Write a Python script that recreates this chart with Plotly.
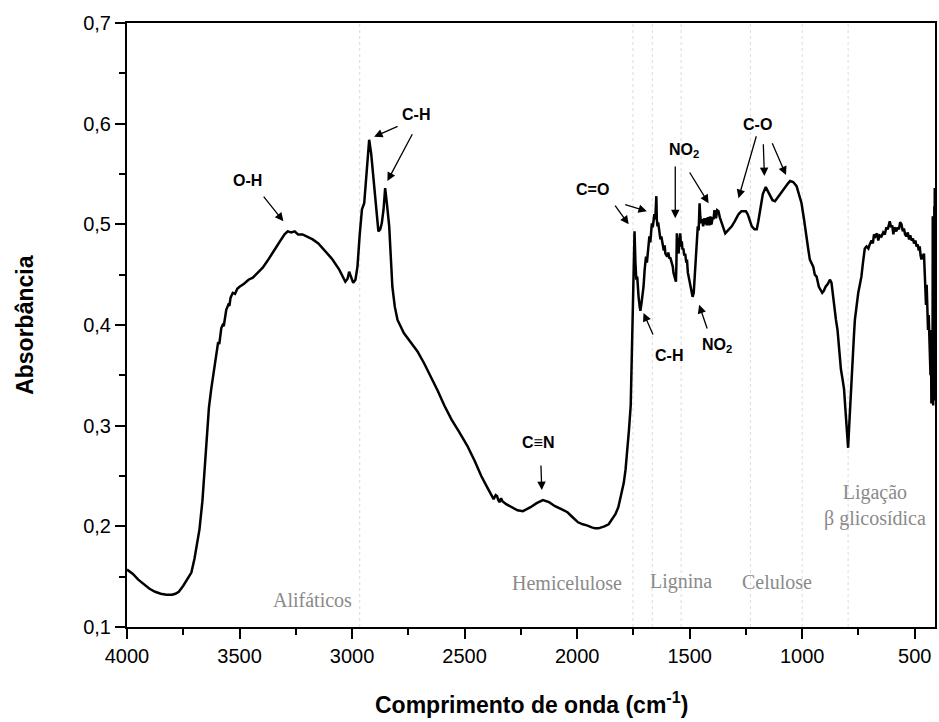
import plotly.graph_objects as go

# ---------------- data ----------------
wavenumber = [
    4000, 3975, 3950, 3925, 3900, 3875, 3850, 3825, 3800, 3785, 3770, 3750, 3730, 3714, 3700, 3690,
    3678, 3665, 3655, 3645, 3636, 3626, 3615, 3604, 3595, 3590, 3581, 3575, 3570, 3559, 3550, 3545,
    3540, 3530, 3520, 3510, 3500, 3480, 3460, 3441, 3420, 3397, 3375, 3353, 3335, 3315, 3300, 3286,
    3270, 3255, 3240, 3220, 3200, 3175, 3150, 3116, 3090, 3057, 3040, 3030, 3020, 3013, 3005, 2995,
    2985, 2976, 2966, 2956, 2946, 2935, 2924, 2915, 2902, 2890, 2883, 2875, 2868, 2860, 2853, 2845,
    2835, 2828, 2821, 2810, 2798, 2770, 2740, 2710, 2680, 2650, 2620, 2590, 2558, 2525, 2488, 2455,
    2426, 2400, 2380, 2371, 2362, 2356, 2350, 2345, 2338, 2332, 2315, 2293, 2265, 2241, 2220, 2207,
    2180, 2152, 2125, 2098, 2070, 2043, 2020, 1996, 1975, 1957, 1935, 1920, 1905, 1890, 1879, 1860,
    1848, 1830, 1817, 1800, 1793, 1785, 1778, 1770, 1762, 1757, 1752, 1748, 1745, 1741, 1737, 1733,
    1730, 1727, 1722, 1719, 1715, 1710, 1705, 1700, 1694, 1690, 1686, 1682, 1679, 1675, 1671, 1668,
    1664, 1660, 1657, 1653, 1650, 1648, 1646, 1643, 1640, 1636, 1634, 1630, 1626, 1620, 1615, 1611,
    1608, 1600, 1595, 1590, 1586, 1580, 1575, 1572, 1566, 1561, 1559, 1557, 1554, 1549, 1546, 1542,
    1538, 1535, 1532, 1528, 1524, 1520, 1515, 1512, 1508, 1503, 1498, 1493, 1487, 1482, 1478, 1475,
    1470, 1466, 1464, 1460, 1456, 1453, 1449, 1445, 1440, 1436, 1431, 1427, 1424, 1420, 1416, 1412,
    1408, 1405, 1402, 1398, 1394, 1390, 1387, 1383, 1378, 1372, 1366, 1361, 1357, 1350, 1342, 1330,
    1313, 1300, 1283, 1270, 1261, 1250, 1242, 1232, 1224, 1212, 1202, 1195, 1187, 1175, 1162, 1152,
    1143, 1132, 1121, 1105, 1091, 1075, 1062, 1054, 1040, 1025, 1013, 1003, 992, 981, 973, 966,
    958, 951, 944, 936, 926, 918, 911, 904, 896, 886, 877, 870, 864, 858, 850, 843,
    835, 828, 820, 814, 808, 802, 796, 790, 785, 781, 776, 770, 766, 760, 751, 744,
    737, 730, 722, 714, 706, 700, 692, 686, 681, 675, 668, 662, 656, 648, 640, 633,
    626, 620, 611, 605, 600, 595, 590, 582, 576, 570, 565, 559, 553, 548, 543, 537,
    531, 525, 520, 514, 508, 503, 497, 492, 487, 482, 478, 474, 470, 466, 462, 459,
    456, 453, 450, 447, 444, 441, 438, 436, 433, 430, 428, 426, 424, 422, 421, 420,
    418, 416, 414, 413, 412, 411,
]
absorbance = [
    0.157, 0.153, 0.147, 0.142, 0.138, 0.135, 0.133, 0.132, 0.132, 0.133, 0.135, 0.141, 0.149, 0.154, 0.168, 0.182,
    0.197, 0.225, 0.258, 0.293, 0.318, 0.336, 0.354, 0.369, 0.383, 0.381, 0.397, 0.400, 0.399, 0.415, 0.420, 0.419,
    0.427, 0.432, 0.431, 0.436, 0.438, 0.441, 0.445, 0.447, 0.452, 0.457, 0.464, 0.471, 0.478, 0.485, 0.490, 0.493,
    0.492, 0.493, 0.490, 0.490, 0.488, 0.485, 0.481, 0.473, 0.466, 0.455, 0.448, 0.443, 0.446, 0.453, 0.448, 0.442,
    0.445, 0.458, 0.490, 0.515, 0.521, 0.555, 0.584, 0.570, 0.541, 0.508, 0.493, 0.495, 0.501, 0.515, 0.536, 0.520,
    0.498, 0.468, 0.438, 0.418, 0.405, 0.392, 0.383, 0.374, 0.362, 0.349, 0.335, 0.320, 0.306, 0.294, 0.280, 0.265,
    0.250, 0.239, 0.230, 0.227, 0.231, 0.230, 0.226, 0.224, 0.228, 0.225, 0.222, 0.219, 0.216, 0.215, 0.217, 0.219,
    0.223, 0.226, 0.224, 0.220, 0.217, 0.214, 0.209, 0.204, 0.202, 0.201, 0.199, 0.198, 0.198, 0.199, 0.200, 0.202,
    0.206, 0.212, 0.219, 0.234, 0.243, 0.256, 0.271, 0.295, 0.320, 0.370, 0.440, 0.480, 0.493, 0.462, 0.445, 0.448,
    0.436, 0.428, 0.418, 0.414, 0.420, 0.430, 0.438, 0.455, 0.468, 0.462, 0.475, 0.484, 0.488, 0.482, 0.495, 0.501,
    0.497, 0.509, 0.510, 0.505, 0.515, 0.528, 0.505, 0.498, 0.502, 0.493, 0.491, 0.485, 0.488, 0.478, 0.474, 0.479,
    0.471, 0.468, 0.472, 0.466, 0.467, 0.462, 0.458, 0.452, 0.446, 0.443, 0.460, 0.491, 0.480, 0.471, 0.482, 0.491,
    0.478, 0.483, 0.475, 0.476, 0.469, 0.471, 0.462, 0.465, 0.452, 0.446, 0.438, 0.432, 0.428, 0.432, 0.445, 0.458,
    0.478, 0.491, 0.498, 0.494, 0.521, 0.508, 0.501, 0.505, 0.498, 0.506, 0.500, 0.506, 0.499, 0.507, 0.505, 0.499,
    0.508, 0.500, 0.501, 0.507, 0.505, 0.514, 0.510, 0.506, 0.514, 0.513, 0.507, 0.504, 0.501, 0.496, 0.491, 0.494,
    0.498, 0.503, 0.510, 0.513, 0.513, 0.513, 0.510, 0.503, 0.498, 0.495, 0.495, 0.503, 0.515, 0.530, 0.537, 0.533,
    0.528, 0.524, 0.523, 0.528, 0.533, 0.538, 0.541, 0.543, 0.542, 0.538, 0.530, 0.521, 0.505, 0.485, 0.475, 0.465,
    0.462, 0.458, 0.450, 0.448, 0.438, 0.434, 0.432, 0.434, 0.438, 0.441, 0.445, 0.442, 0.430, 0.415, 0.405, 0.395,
    0.375, 0.356, 0.345, 0.336, 0.316, 0.296, 0.278, 0.305, 0.330, 0.342, 0.360, 0.390, 0.405, 0.418, 0.432, 0.440,
    0.448, 0.462, 0.476, 0.478, 0.476, 0.480, 0.484, 0.481, 0.490, 0.488, 0.491, 0.484, 0.489, 0.488, 0.492, 0.490,
    0.497, 0.495, 0.503, 0.497, 0.499, 0.490, 0.497, 0.493, 0.497, 0.495, 0.502, 0.500, 0.493, 0.496, 0.490, 0.488,
    0.492, 0.485, 0.489, 0.484, 0.486, 0.481, 0.484, 0.478, 0.480, 0.474, 0.478, 0.469, 0.465, 0.470, 0.468, 0.471,
    0.455, 0.442, 0.420, 0.440, 0.405, 0.395, 0.410, 0.385, 0.382, 0.350, 0.395, 0.322, 0.360, 0.359, 0.330, 0.508,
    0.320, 0.470, 0.325, 0.518, 0.420, 0.536,
]

x_tick_values = [4000, 3500, 3000, 2500, 2000, 1500, 1000, 500]
y_tick_values = [0.1, 0.2, 0.3, 0.4, 0.5, 0.6, 0.7]

# boundaries of the spectral regions (dotted guide lines), cm^-1
region_bounds = [2966, 1752, 1666, 1538, 1230, 1000, 796]
region_names = ["Alifáticos", "Hemicelulose", "Lignina", "Celulose", "Ligação<br>β glicosídica"]
region_pos = [(3177, 0.127), (2043, 0.144), (1540, 0.145), (1111, 0.145), (676, 0.221)]

# band assignments: (label, text position, [(tail, head), ...])
bands = [
    ("O-H", (3466, 0.544), [((3398, 0.529), (3305, 0.503))]),
    ("C-H", (2717, 0.609), [((2791, 0.598), (2902, 0.587)), ((2729, 0.591), (2843, 0.543))]),
    ("C≡N", (2172, 0.283), [((2161, 0.262), (2157, 0.236))]),
    ("C=O", (1931, 0.535), [((1836, 0.520), (1771, 0.500)), ((1793, 0.520), (1690, 0.513))]),
    ("NO<sub>2</sub>", (1527, 0.573), [((1564, 0.559), (1564, 0.506)), ((1504, 0.553), (1416, 0.521))]),
    ("C-O", (1198, 0.599), [((1202, 0.589), (1283, 0.526)), ((1173, 0.581), (1168, 0.548)),
                            ((1136, 0.582), (1072, 0.549))]),
    ("C-H", (1594, 0.370), [((1660, 0.389), (1705, 0.412))]),
    ("NO<sub>2</sub>", (1380, 0.380), [((1420, 0.395), (1458, 0.420))]),
]

# ---------------- figure ----------------
fig = go.Figure()

for b in region_bounds:
    fig.add_shape(type="line", xref="x", yref="paper", x0=b, x1=b, y0=0, y1=1,
                  line=dict(color="#dcdcdc", width=1, dash="dot"), layer="below")

fig.add_trace(go.Scatter(x=wavenumber, y=absorbance, mode="lines",
                         line=dict(color="black", width=2.5), showlegend=False,
                         hoverinfo="skip"))

annotations = []
for name, (tx, ty) in zip(region_names, region_pos):
    annotations.append(dict(x=tx, y=ty, xref="x", yref="y", text=name, showarrow=False,
                            font=dict(family="Liberation Serif, Times New Roman, serif",
                                      size=20, color="#8a8a8a")))

for label, (tx, ty), arrows in bands:
    annotations.append(dict(x=tx, y=ty, xref="x", yref="y", text="<b>" + label + "</b>",
                            showarrow=False,
                            font=dict(family="Liberation Sans, Arial, sans-serif", size=16,
                                      color="black")))
    for (ax_, ay_), (hx, hy) in arrows:
        annotations.append(dict(x=hx, y=hy, ax=ax_, ay=ay_, xref="x", yref="y",
                                axref="x", ayref="y", text="", showarrow=True,
                                arrowhead=2, arrowsize=1.3, arrowwidth=1.3,
                                arrowcolor="black", standoff=0, startstandoff=0))

# axis titles
annotations.append(dict(x=0.5, y=-0.125, xref="paper", yref="paper",
                        text="<b>Comprimento de onda (cm<sup>-1</sup>)</b>", showarrow=False,
                        xanchor="center", yanchor="middle",
                        font=dict(family="Liberation Sans, Arial, sans-serif", size=23,
                                  color="black")))
annotations.append(dict(x=-0.1264, y=0.5, xref="paper", yref="paper",
                        text="<b>Absorbância</b>", showarrow=False, textangle=-90,
                        xanchor="center", yanchor="middle",
                        font=dict(family="Liberation Sans, Arial, sans-serif", size=23,
                                  color="black")))

axis_common = dict(showgrid=False, zeroline=False, showline=True, linecolor="black",
                   linewidth=2, mirror=True, ticks="outside", ticklen=10, tickwidth=2,
                   tickcolor="black",
                   tickfont=dict(family="Liberation Sans, Arial, sans-serif", size=20,
                                 color="black"))

fig.update_layout(
    width=939, height=722,
    margin=dict(l=127, r=2, t=23, b=95),
    paper_bgcolor="white", plot_bgcolor="white",
    separators=",.",
    annotations=annotations,
    xaxis=dict(range=[4000, 410], tickmode="array", tickvals=x_tick_values,
               minor=dict(ticks="outside", ticklen=6, tickwidth=2, tickcolor="black",
                          dtick=250, tick0=0),
               **axis_common),
    yaxis=dict(range=[0.1, 0.7], tickmode="array", tickvals=y_tick_values,
               tickformat=".1f",
               minor=dict(ticks="outside", ticklen=6, tickwidth=2, tickcolor="black",
                          dtick=0.05, tick0=0),
               **axis_common),
)

fig.write_html("out.html")
